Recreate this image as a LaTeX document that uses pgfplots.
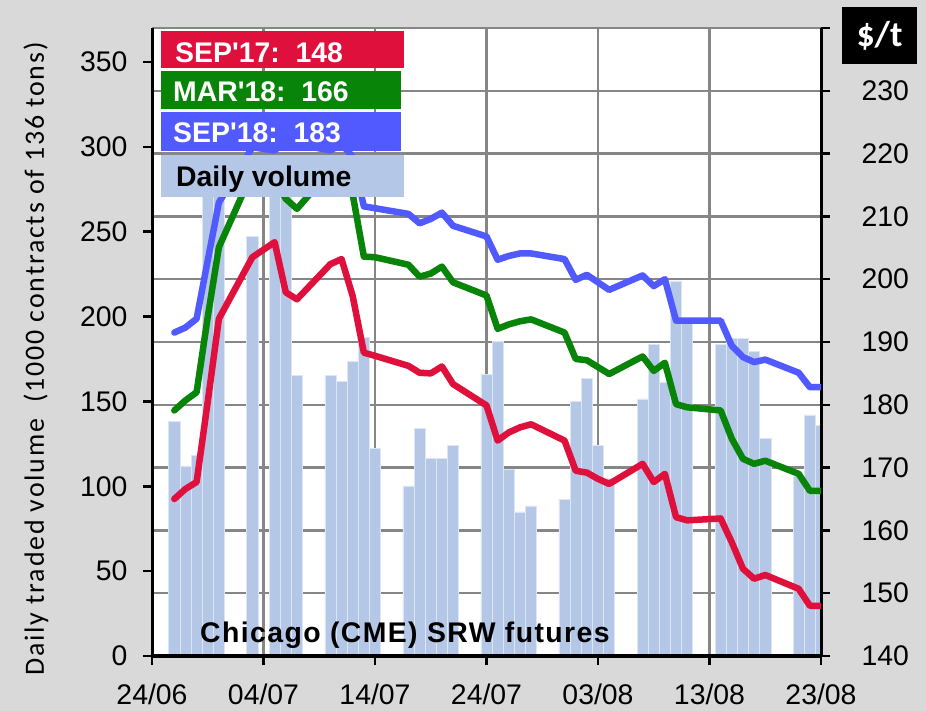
\documentclass[border=0pt]{standalone}
\usepackage{fontspec}
\setmainfont{Liberation Sans}
\newfontfamily\ylabfont[LetterSpace=6.5]{Carlito}
\newfontfamily\unitfont{Carlito}
\newfontfamily\spacedfont[LetterSpace=5]{Liberation Sans}
\usepackage{pgfplots}
\usepackage{pgfplotstable}
\pgfplotsset{compat=1.18}
\definecolor{bggray}{RGB}{217,217,217}
\definecolor{gridgray}{RGB}{134,134,134}
\definecolor{sepred}{RGB}{224,16,60}
\definecolor{margreen}{RGB}{8,132,8}
\definecolor{sepblue}{RGB}{80,90,255}
\definecolor{volblue}{RGB}{180,199,231}

\pgfplotstableread{
day vol
2 138
3 112
4 118
5 285
6 285
9 247
11 285
12 285
13 165.5
16 165.5
17 161.6
18 173.4
19 187.5
20 122.2
23 100.2
24 133.9
25 116.3
26 116.3
27 124
30 165.9
31 185.5
32 110
33 84.9
34 88.4
37 92.4
38 149.8
39 163.7
40 124.1
41 104.5
44 151.5
45 183.5
46 161.5
47 221
48 196
51 183.5
52 187
53 187
54 179.6
55 128
58 106
59 142
60 135.9
}\voltable

\pgfplotstableread{
day red green blue
2 165.0 179.1 191.5
3 166.6 180.7 192.3
4 167.7 182.0 193.7
5 180.5 194.0 203.0
6 193.7 205.1 212.2
9 203.5 217.0 221.0
11 205.9 216.0 220.5
12 197.9 212.8 222.0
13 196.8 211.2 221.5
16 202.4 217.3 220.5
17 203.2 217.0 221.5
18 197.3 213.5 219.5
19 188.3 203.6 211.6
20 187.8 203.5 211.3
23 186.2 202.3 210.4
24 185.1 200.4 208.9
25 185.0 200.9 209.6
26 186.1 202.0 210.6
27 183.3 199.5 208.5
30 179.9 197.4 206.8
31 174.3 192.1 203.1
32 175.6 192.8 203.7
33 176.4 193.3 204.1
34 176.9 193.6 204.1
37 174.3 191.5 203.2
38 169.5 187.3 199.9
39 169.2 187.1 200.7
40 168.2 186.0 199.5
41 167.4 184.9 198.3
44 170.6 187.7 200.6
45 167.7 185.4 198.9
46 169.0 186.7 200.0
47 162.1 180.1 193.4
48 161.6 179.6 193.4
51 161.9 179.1 193.4
52 158.1 174.6 189.4
53 153.9 171.4 187.6
54 152.3 170.6 186.8
55 152.9 171.1 187.2
58 150.7 169.0 185.1
59 148.0 166.3 182.8
60 148.0 166.3 182.8
}\pricetable

\begin{document}
\begin{tikzpicture}
\fill[bggray] (0,0) rectangle (926bp,711bp);
\fill[white] (152bp,55bp) rectangle (821bp,683bp);
\pgfplotsset{base/.style={at={(152bp,55bp)}, anchor=south west, scale only axis,
  width=669bp, height=628bp, xmin=0, xmax=60, enlargelimits=false}}
% grid
\begin{axis}[base, ymin=140, ymax=240, axis line style={draw=none}, tick style={draw=none},
  xtick={10,20,...,60}, ytick={150,160,...,240}, xticklabels={}, yticklabels={},
  grid=major, major grid style={gridgray, line width=2.5bp}, clip=false]
\end{axis}
% bars, left axis
\begin{axis}[base, ymin=0, ymax=370, axis x line*=bottom, axis y line*=left,
  axis on top,
  axis line style={black, line width=3bp},
  ytick={0,50,...,350}, xtick={0,10,...,60},
  xticklabels={24/06,04/07,14/07,24/07,03/08,13/08,23/08},
  tick align=outside, major tick length=9bp, tick style={black, line width=2.5bp},
  tick label style={font=\fontsize{28.5}{28}\selectfont},
  xticklabel style={yshift=-15bp},
  yticklabel style={xshift=-12bp},
  /pgf/number format/assume math mode=true]
\addplot[ybar, bar width=1, bar shift=0pt, fill=volblue, draw=white!55!volblue, line width=0.6bp]
  table[x=day, y=vol]{\voltable};
\end{axis}
% prices, right axis
\begin{axis}[base, ymin=140, ymax=240, axis x line=none, axis y line*=right,
  axis line style={black, line width=3bp},
  ytick={140,150,...,230}, extra y ticks={240}, extra y tick labels={},
  tick align=outside, major tick length=9bp, tick style={black, line width=2.5bp},
  extra y tick style={tick style={black, line width=2.5bp}},
  tick label style={font=\fontsize{28.5}{28}\selectfont},
  yticklabel style={xshift=28bp},
  /pgf/number format/assume math mode=true]
\addplot[sepred, line width=6.5bp, line join=round, line cap=round] table[x=day, y=red]{\pricetable};
\addplot[margreen, line width=6.5bp, line join=round, line cap=round] table[x=day, y=green]{\pricetable};
\addplot[sepblue, line width=6.5bp, line join=round, line cap=round] table[x=day, y=blue]{\pricetable};
\end{axis}
% legend boxes
\fill[sepred] (161bp,643bp) rectangle (404bp,680bp);
\fill[margreen] (161bp,602bp) rectangle (401bp,640bp);
\fill[sepblue] (161bp,560bp) rectangle (401bp,599bp);
\fill[volblue] (161bp,514bp) rectangle (404bp,556bp);
\node[anchor=base west, inner sep=0, text=white, font=\bfseries\fontsize{28.5}{28}\selectfont] at (175bp,648.3bp) {SEP\textquotesingle17:\ \ 148};
\node[anchor=base west, inner sep=0, text=white, font=\bfseries\fontsize{28.5}{28}\selectfont] at (173bp,609.3bp) {MAR\textquotesingle18:\ \ 166};
\node[anchor=base west, inner sep=0, text=white, font=\bfseries\fontsize{28.5}{28}\selectfont] at (173bp,568.3bp) {SEP\textquotesingle18:\ \ 183};
\node[anchor=base west, inner sep=0, text=black, font=\bfseries\fontsize{28.5}{28}\selectfont] at (176bp,524.3bp) {Daily volume};
% unit box
\fill[black] (842bp,647bp) rectangle (917bp,704bp);
\node[text=white, font=\unitfont\bfseries\fontsize{36}{36}\selectfont] at (879.5bp,675.5bp) {\$/t};
% titles
\node[anchor=base west, inner sep=0, font=\spacedfont\bfseries\fontsize{28.5}{28}\selectfont] at (200bp,68bp) {Chicago (CME) SRW futures};
\node[rotate=90, inner sep=0, font=\ylabfont\fontsize{28}{28}\selectfont] at (36bp,352bp) {Daily traded volume\ \ (1000 contracts of 136 tons)};
\pgfresetboundingbox
\useasboundingbox (0,0) rectangle (926bp,711bp);
\end{tikzpicture}
\end{document}
